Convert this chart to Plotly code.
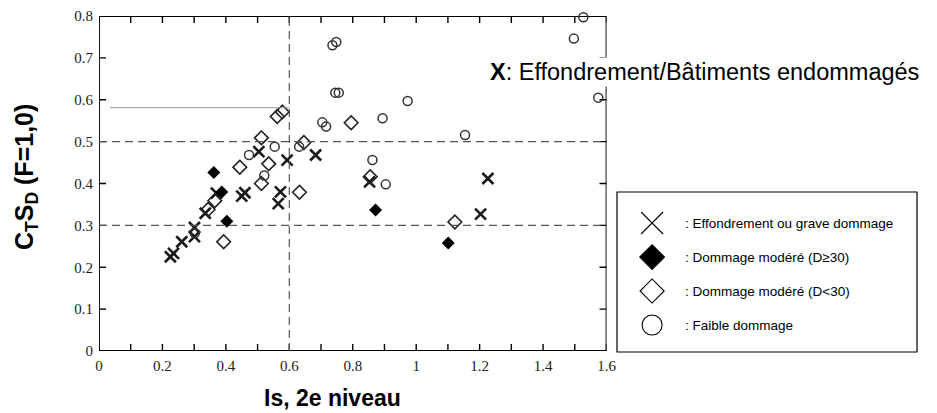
import plotly.graph_objects as go

W, H = 937, 413

# ---- data ----
cross_x = [0.225, 0.235, 0.261, 0.301, 0.301, 0.335, 0.370, 0.450, 0.460, 0.504, 0.565, 0.572, 0.593, 0.683, 0.853, 1.203, 1.226]
cross_y = [0.225, 0.233, 0.261, 0.295, 0.273, 0.329, 0.377, 0.370, 0.378, 0.476, 0.352, 0.380, 0.456, 0.468, 0.404, 0.327, 0.412]

fdia_x = [0.362, 0.387, 0.403, 0.872, 1.101]
fdia_y = [0.426, 0.380, 0.310, 0.337, 0.258]

odia_x = [0.344, 0.365, 0.393, 0.444, 0.512, 0.512, 0.535, 0.562, 0.578, 0.632, 0.646, 0.795, 0.855, 1.122]
odia_y = [0.338, 0.359, 0.261, 0.439, 0.400, 0.509, 0.447, 0.560, 0.571, 0.379, 0.498, 0.545, 0.416, 0.308]

circ_x = [0.302, 0.473, 0.521, 0.554, 0.631, 0.704, 0.716, 0.736, 0.748, 0.745, 0.756, 0.862, 0.894, 0.904, 0.973, 1.154, 1.497, 1.527, 1.574]
circ_y = [0.281, 0.468, 0.419, 0.488, 0.488, 0.546, 0.536, 0.730, 0.738, 0.617, 0.617, 0.456, 0.556, 0.398, 0.597, 0.516, 0.746, 0.797, 0.605]

x_tickvals = [0.0, 0.1, 0.2, 0.3, 0.4, 0.5, 0.6, 0.7, 0.8, 0.9, 1.0, 1.1, 1.2, 1.3, 1.4, 1.5, 1.6]
x_ticktext = ["0", " ", "0.2", " ", "0.4", " ", "0.6", " ", "0.8", " ", "1", " ", "1.2", " ", "1.4", " ", "1.6"]
y_tickvals = [0.0, 0.1, 0.2, 0.3, 0.4, 0.5, 0.6, 0.7, 0.8]
y_ticktext = ["0", "0.1", "0.2", "0.3", "0.4", "0.5", "0.6", "0.7", "0.8"]

X_MIN, X_MAX = 0.0, 1.6
Y_MIN, Y_MAX = 0.0, 0.8

ref_x = [0.6]
ref_y = [0.5, 0.3]

legend_labels = [": Effondrement ou grave dommage", ": Dommage modéré (D≥30)",
                 ": Dommage modéré (D<30)", ": Faible dommage"]
legend_rows = [0, 1, 2, 3]

x_title = "Is, 2e niveau"
y_title = "C<sub>T</sub>S<sub>D</sub> (F=1,0)"
note_text = "<b>X</b>: Effondrement/Bâtiments endommagés"

# ---- geometry (pixels) ----
PL, PR, PT, PB = 99, 606.5, 16, 351
LL, LR, LT, LB = 617, 917, 192, 352
TICKLEN = 7


def px(v):
    return v / W


def py(v):
    return 1 - v / H


# tick length expressed in axis units (derived from the axis scale)
tx = TICKLEN * (X_MAX - X_MIN) / (PR - PL)
ty = TICKLEN * (Y_MAX - Y_MIN) / (PB - PT)

fig = go.Figure()

# axis frame as a line trace along the axis limits
fig.add_trace(go.Scatter(x=[X_MIN, X_MAX, X_MAX, X_MIN, X_MIN],
                         y=[Y_MIN, Y_MIN, Y_MAX, Y_MAX, Y_MIN],
                         mode="lines", cliponaxis=False, hoverinfo="skip",
                         line=dict(color="black", width=1.8)))
# inward ticks on all four sides
tick_x, tick_y = [], []
for xv in x_tickvals:
    tick_x += [xv, xv, None, xv, xv, None]
    tick_y += [Y_MIN, Y_MIN + ty, None, Y_MAX, Y_MAX - ty, None]
for yv in y_tickvals:
    tick_x += [X_MIN, X_MIN + tx, None, X_MAX, X_MAX - tx, None]
    tick_y += [yv, yv, None, yv, yv, None]
fig.add_trace(go.Scatter(x=tick_x, y=tick_y, mode="lines", cliponaxis=False, hoverinfo="skip",
                         connectgaps=False, line=dict(color="black", width=1.4)))

fig.add_trace(go.Scatter(x=cross_x, y=cross_y, mode="markers", cliponaxis=False,
                         marker=dict(symbol="x-thin", size=11, color="#1a1a1a",
                                     line=dict(width=2.6, color="#1a1a1a"))))
fig.add_trace(go.Scatter(x=fdia_x, y=fdia_y, mode="markers", cliponaxis=False,
                         marker=dict(symbol="diamond", size=10, color="#000", line=dict(width=0))))
fig.add_trace(go.Scatter(x=odia_x, y=odia_y, mode="markers", cliponaxis=False,
                         marker=dict(symbol="diamond-open", size=10.5, color="#222",
                                     line=dict(width=1.6, color="#222"))))
fig.add_trace(go.Scatter(x=circ_x, y=circ_y, mode="markers", cliponaxis=False,
                         marker=dict(symbol="circle-open", size=9, color="#333",
                                     line=dict(width=1.5, color="#333"))))

# custom legend symbols on a hidden axis
leg_symbols = ["x-thin", "diamond", "diamond-open", "circle-open"]
leg_sizes = [22, 19, 18.5, 20]
for i, (sym, sz) in enumerate(zip(leg_symbols, leg_sizes)):
    fig.add_trace(go.Scatter(
        x=[0.117], y=[legend_rows[i]], mode="markers", xaxis="x2", yaxis="y2", cliponaxis=False,
        marker=dict(symbol=sym, size=sz, color="#000", line=dict(width=1.1, color="#000"))))

for i, lab in enumerate(legend_labels):
    fig.add_annotation(x=0.22, y=legend_rows[i], xref="x2", yref="y2", text=lab, showarrow=False,
                       xanchor="left", yanchor="middle",
                       font=dict(family="Liberation Sans, Arial", size=13.5, color="#000"))

shapes = []
for xv in ref_x:
    shapes.append(dict(type="line", xref="x", yref="y", x0=xv, x1=xv, y0=Y_MIN, y1=Y_MAX,
                       line=dict(color="#555", width=1.2, dash="8px,5px")))
for yv in ref_y:
    shapes.append(dict(type="line", xref="x", yref="y", x0=X_MIN, x1=X_MAX, y0=yv, y1=yv,
                       line=dict(color="#555", width=1.2, dash="8px,5px")))
# faint scan artefact line
shapes.append(dict(type="line", xref="x", yref="y", x0=0.035, x1=0.6, y0=0.581, y1=0.581,
                   line=dict(color="#999", width=1)))
# legend box
shapes.append(dict(type="rect", xref="paper", yref="paper", x0=px(LL), x1=px(LR), y0=py(LB), y1=py(LT),
                   line=dict(color="#000", width=1.2), fillcolor="rgba(0,0,0,0)"))

tickfont = dict(family="Liberation Serif, Times New Roman, serif", size=15, color="#222")

fig.update_layout(
    template="none",
    width=W, height=H, margin=dict(l=0, r=0, t=0, b=0, pad=0),
    paper_bgcolor="white", plot_bgcolor="white", showlegend=False,
    xaxis=dict(domain=[px(PL), px(PR)], range=[X_MIN, X_MAX], tickmode="array",
               tickvals=x_tickvals, ticktext=x_ticktext, ticks="", ticklabelstandoff=4,
               showline=False, showgrid=False, zeroline=False, tickfont=tickfont, automargin=False),
    yaxis=dict(domain=[py(PB), py(PT)], range=[Y_MIN, Y_MAX], tickmode="array",
               tickvals=y_tickvals, ticktext=y_ticktext, ticks="", ticklabelstandoff=5,
               showline=False, showgrid=False, zeroline=False, tickfont=tickfont, automargin=False),
    xaxis2=dict(domain=[px(LL), px(LR)], range=[0, 1], visible=False, anchor="y2"),
    yaxis2=dict(domain=[py(LB), py(LT)], range=[3.794, -0.912], visible=False, anchor="x2"),
    shapes=shapes,
)

fig.add_annotation(x=px(332), y=py(398), xref="paper", yref="paper", text=f"<b>{x_title}</b>",
                   showarrow=False, xanchor="center", yanchor="middle",
                   font=dict(family="Liberation Sans, Arial", size=23, color="#000"))
fig.add_annotation(x=px(26), y=py(177), xref="paper", yref="paper", text=f"<b>{y_title}</b>",
                   showarrow=False, textangle=-90, xanchor="center", yanchor="middle",
                   font=dict(family="Liberation Sans, Arial", size=25, color="#000"))
fig.add_annotation(x=px(488), y=py(72.5), xref="paper", yref="paper", text=note_text,
                   showarrow=False, xanchor="left", yanchor="middle", bgcolor="white", borderpad=1,
                   font=dict(family="Liberation Sans, Arial", size=23.5, color="#000"))

fig.write_html("out.html")
